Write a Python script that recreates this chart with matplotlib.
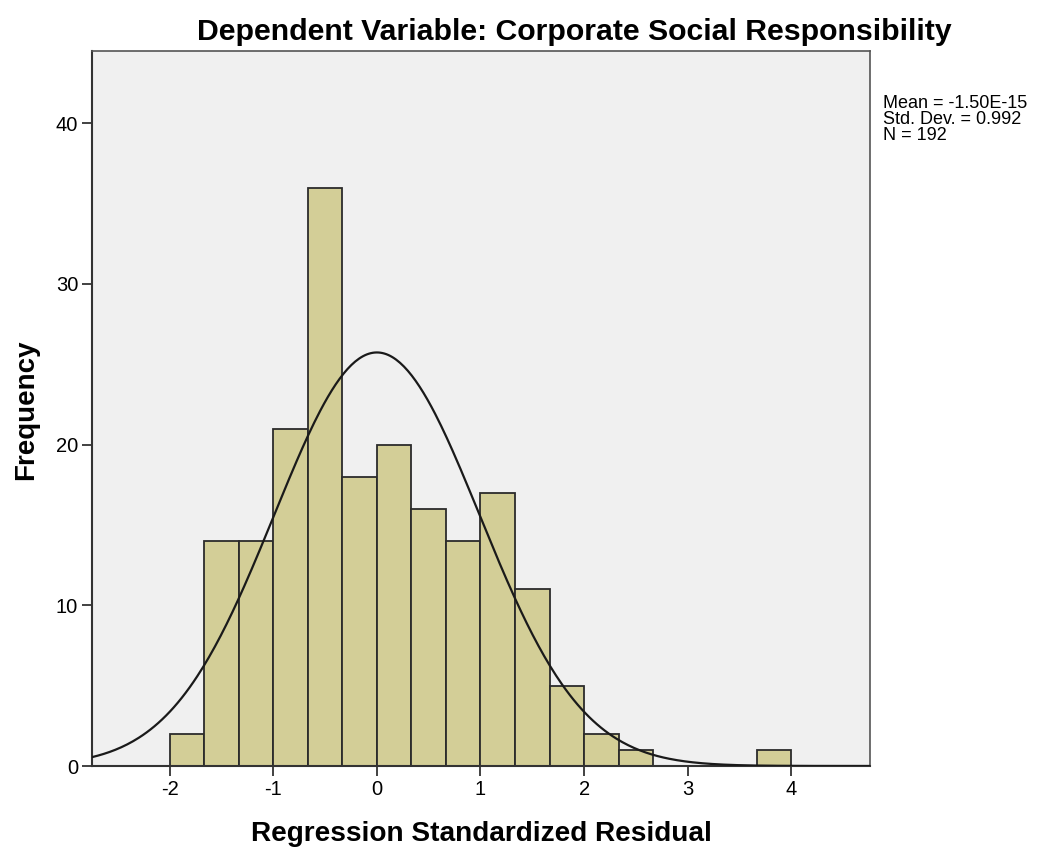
import numpy as np
import matplotlib
matplotlib.use("Agg")
import matplotlib.pyplot as plt

# histogram bins (width 1/3) and counts
bin_edges = np.linspace(-2.0, 4.0, 19)
counts = [2, 14, 14, 21, 36, 18, 20, 16, 14, 17, 11, 5, 2, 1, 0, 0, 0, 1]
mean, sd, n = -1.50e-15, 0.992, 192
x_ticks = [-2, -1, 0, 1, 2, 3, 4]
y_ticks = [0, 10, 20, 30, 40]

plt.rcParams["font.family"] = ["Liberation Sans", "DejaVu Sans"]
plt.rcParams["axes.unicode_minus"] = False

fig = plt.figure(figsize=(10.48, 8.52), dpi=100)
ax = fig.add_axes([92 / 1048, 86 / 852, (870 - 92) / 1048, (766 - 51) / 852])
ax.set_facecolor("#F0F0F0")

widths = np.diff(bin_edges)
ax.bar(bin_edges[:-1], counts, width=widths, align="edge",
       color="#D3CE97", edgecolor="#2b2b2b", linewidth=1.3, zorder=2)

# fitted normal curve
xs = np.linspace(-2.75, 4.76, 400)
binw = widths[0]
ys = n * binw * np.exp(-0.5 * ((xs - mean) / sd) ** 2) / (sd * np.sqrt(2 * np.pi))
ax.plot(xs, ys, color="#1a1a1a", linewidth=1.6, zorder=3)

ax.set_xlim(-2.75, 4.76)
ax.set_ylim(0, 44.5)
ax.set_xticks(x_ticks)
ax.set_yticks(y_ticks)
ax.tick_params(direction="out", length=7, width=1.3, labelsize=14.5,
               color="#333333", pad=3)
for side in ["left", "bottom"]:
    ax.spines[side].set_linewidth(1.5)
    ax.spines[side].set_color("#333333")
for side in ["top", "right"]:
    ax.spines[side].set_linewidth(1.2)
    ax.spines[side].set_color("#555555")

fig.text(481 / 1048, 1 - 834 / 852, "Regression Standardized Residual",
         fontsize=20.2, fontweight="bold", ha="center", va="center")
fig.text(26 / 1048, 1 - 410 / 852, "Frequency", rotation=90,
         fontsize=20, fontweight="bold", ha="center", va="center")
fig.text(574 / 1048, 1 - 32 / 852,
         "Dependent Variable: Corporate Social Responsibility",
         fontsize=21.8, fontweight="bold", ha="center", va="center")

fig.text(883 / 1048, 1 - 95 / 852,
         f"Mean = -1.50E-15\nStd. Dev. = {sd:.3f}\nN = {n}",
         fontsize=13, va="top", ha="left", linespacing=0.92)

fig.savefig("out.png", dpi=100)
